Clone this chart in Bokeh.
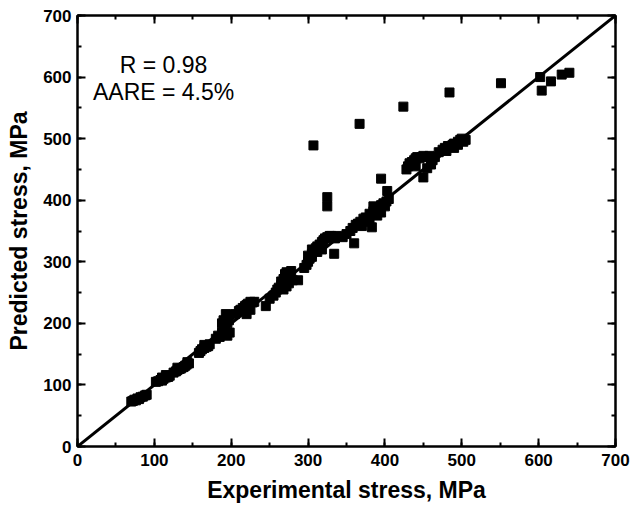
from bokeh.plotting import figure
from bokeh.models import Range1d, LinearAxis, SingleIntervalTicker
from bokeh.core.properties import value
from bokeh.embed import file_html
from bokeh.resources import INLINE

# Experimental vs predicted stress (MPa)
exp_stress = [
    70, 72, 74, 76, 78, 80, 82, 85, 88, 90,
    102, 105, 108, 110, 112, 115, 118, 120, 115, 110,
    125, 128, 130, 133, 135, 138, 140, 142, 145, 143, 130,
    158, 160, 162, 165, 168, 170, 165, 172,
    180, 183, 185, 188, 190, 192, 195, 188, 190, 195, 193, 197, 198, 195, 190,
    205, 210, 212, 215, 218, 220, 222, 225, 228, 230, 220, 225, 245,
    250, 255, 258, 260, 262, 265, 265, 268, 270, 270, 272, 275, 278, 268, 272, 275, 280, 287,
    295, 298, 300, 302, 305, 305, 308, 310, 312, 315, 318, 320, 322, 325, 328, 330, 332, 335, 338,
    312, 318, 300, 305, 334, 360,
    345, 350, 355, 358, 362, 365, 368, 372, 375, 380, 385, 388, 390, 395, 398, 402, 405,
    370, 380, 390, 385, 395, 400, 383,
    325, 325, 395, 403, 307, 367, 424, 484, 551,
    428, 430, 432, 435, 438, 440, 442, 445, 448, 450, 455, 458, 460, 462, 465, 440, 450, 455, 460,
    470, 475, 478, 482, 488, 490, 495, 498, 500, 505, 502, 480, 490, 495,
    602, 604, 616, 630, 640,
]
pred_stress = [
    73, 74, 76, 75, 78, 77, 80, 81, 83, 84,
    105, 106, 108, 107, 110, 112, 113, 115, 116, 112,
    120, 122, 124, 126, 127, 129, 131, 133, 135, 137, 128,
    152, 155, 158, 160, 162, 163, 165, 166,
    175, 180, 178, 185, 190, 195, 200, 200, 205, 210, 215, 205, 185, 180, 182,
    215, 220, 222, 225, 228, 230, 232, 235, 234, 235, 215, 222, 228,
    240, 245, 250, 255, 258, 262, 268, 272, 275, 280, 283, 282, 285, 255, 260, 265, 270, 270,
    290, 295, 300, 305, 308, 313, 318, 322, 325, 328, 332, 335, 338, 340, 342, 342, 340, 338, 342,
    316, 320, 310, 320, 313, 330,
    340, 345, 350, 355, 360, 362, 365, 370, 372, 378, 382, 385, 388, 392, 395, 398, 402,
    358, 365, 375, 390, 380, 390, 356,
    405, 390, 435, 415, 489, 524, 552, 575, 590,
    450, 455, 460, 462, 465, 468, 470, 468, 470, 472, 470, 472, 468, 465, 470, 455, 437, 452, 458,
    478, 482, 485, 488, 490, 492, 495, 498, 500, 498, 495, 480, 485, 490,
    600, 578, 593, 604, 607,
]
line_xy = [0, 700]
stats_lines = ["R = 0.98", "AARE = 4.5%"]
stats_x = [112, 112]
stats_y = [619, 575]

FONT = "Liberation Sans"

p = figure(width=630, height=510, output_backend="svg", toolbar_location=None,
           x_range=Range1d(0, 700), y_range=Range1d(0, 700),
           x_axis_label="Experimental stress, MPa",
           y_axis_label="Predicted stress, MPa")
p.min_border_left = 77
p.min_border_right = 15
p.min_border_top = 15
p.min_border_bottom = 64
p.grid.visible = False
p.outline_line_color = "black"
p.outline_line_width = 2
p.background_fill_color = "white"
p.border_fill_color = "white"

def style_axis(ax, labels=True):
    ax.ticker = SingleIntervalTicker(interval=100, num_minor_ticks=2)
    ax.axis_line_width = 2
    ax.major_tick_in = 8
    ax.major_tick_out = 0
    ax.minor_tick_in = 4
    ax.minor_tick_out = 0
    ax.major_tick_line_width = 2
    ax.minor_tick_line_width = 2
    ax.major_label_text_font = FONT
    ax.major_label_text_font_style = "bold"
    ax.major_label_text_font_size = "17px" if labels else "0px"
    ax.major_label_text_color = "black"
    if not labels:
        ax.major_label_standoff = 0
        ax.major_label_text_alpha = 0

style_axis(p.xaxis[0])
style_axis(p.yaxis[0])
p.xaxis[0].major_label_standoff = 7
p.yaxis[0].major_label_standoff = 6
for ax in (p.xaxis[0], p.yaxis[0]):
    ax.axis_label_text_font = FONT
    ax.axis_label_text_font_style = "bold"
    ax.axis_label_text_font_size = "23px"
    ax.axis_label_text_color = "black"
p.xaxis[0].axis_label_standoff = 8
p.yaxis[0].axis_label_standoff = 8

top_ax = LinearAxis()
right_ax = LinearAxis()
style_axis(top_ax, labels=False)
style_axis(right_ax, labels=False)
p.add_layout(top_ax, "above")
p.add_layout(right_ax, "right")

p.line(line_xy, line_xy, line_color="black", line_width=3)
p.scatter(exp_stress, pred_stress, marker="square", size=9,
          fill_color="black", line_color="black")

p.text(x=stats_x, y=stats_y, text=stats_lines, text_align="center",
       text_baseline="alphabetic", text_font_size="23px",
       text_font=value(FONT), text_color="black")

open("out.html", "w").write(file_html(p, INLINE))
